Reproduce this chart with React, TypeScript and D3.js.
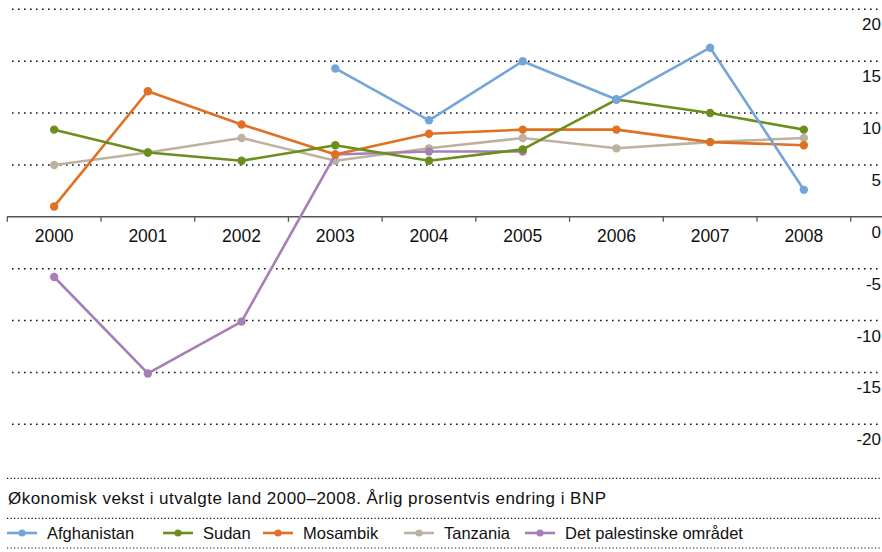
import React from "react";
import * as d3 from "d3";

const years = ["2000", "2001", "2002", "2003", "2004", "2005", "2006", "2007", "2008"];
const afghanistan: (number | null)[] = [null, null, null, 14.3, 9.3, 15.0, 11.3, 16.3, 2.6];
const sudan: (number | null)[] = [8.4, 6.2, 5.4, 6.9, 5.4, 6.5, 11.3, 10.0, 8.4];
const mosambik: (number | null)[] = [1.0, 12.1, 8.9, 6.0, 8.0, 8.4, 8.4, 7.2, 6.9];
const tanzania: (number | null)[] = [5.0, 6.2, 7.6, 5.4, 6.6, 7.6, 6.6, 7.2, 7.6];
const palestina: (number | null)[] = [-5.8, -15.1, -10.1, 6.0, 6.3, 6.3, null, null, null];
const yTicks = [20, 15, 10, 5, 0, -5, -10, -15, -20];
const title = "Økonomisk vekst i utvalgte land 2000–2008. Årlig prosentvis endring i BNP";

const seriesNames = ["Afghanistan", "Sudan", "Mosambik", "Tanzania", "Det palestinske området"];
const seriesValues = [afghanistan, sudan, mosambik, tanzania, palestina];
const seriesColors = ["#74a5da", "#6b8e1c", "#e07022", "#bdb1a0", "#a57fb6"];
// draw order (back to front)
const drawOrder = [3, 4, 2, 1, 0];
const legendX = [7, 163, 263, 404, 525];

const FONT = "'Liberation Sans', Arial, sans-serif";

export default function App() {
  const W = 882;
  const H = 552;
  const x = d3.scaleBand<string>().domain(years).range([7.3, 850.7]).padding(0);
  const y = d3.scaleLinear().domain([-20, 20]).range([424.3, 9.3]);
  const cx = (i: number) => (x(years[i]) as number) + x.bandwidth() / 2;
  const line = d3
    .line<number | null>()
    .defined((d) => d !== null)
    .x((_, i) => cx(i))
    .y((d) => y(d as number));

  const boundaries = years.map((yr) => x(yr) as number).concat([x.range()[1]]);

  return (
    <svg
      width={W}
      height={H}
      style={{ position: "fixed", left: 0, top: 0, background: "#fff" }}
      fontFamily={FONT}
    >
      {yTicks
        .filter((t) => t !== 0)
        .map((t) => (
          <line
            key={"g" + t}
            x1={12}
            x2={880}
            y1={y(t)}
            y2={y(t)}
            stroke="#111"
            strokeWidth={1.6}
            strokeDasharray="1.6 4.4"
          />
        ))}
      {[478.3, 518.3, 548].map((yy, i) => (
        <line
          key={"r" + i}
          x1={7}
          x2={880}
          y1={yy}
          y2={yy}
          stroke="#111"
          strokeWidth={1.2}
          strokeDasharray="1.2 2.3"
        />
      ))}
      <line x1={7} x2={882} y1={y(0)} y2={y(0)} stroke="#555" strokeWidth={1.5} />
      {boundaries.map((b, i) => (
        <line key={"t" + i} x1={b} x2={b} y1={y(0)} y2={y(0) + 5} stroke="#555" strokeWidth={1.3} />
      ))}
      {years.map((yr, i) => (
        <text key={yr} x={cx(i)} y={236} textAnchor="middle" dominantBaseline="central" fontSize={17.5} fill="#111">
          {yr}
        </text>
      ))}
      {yTicks.map((t) => (
        <text
          key={"yl" + t}
          x={881}
          y={y(t) + 15.5}
          textAnchor="end"
          dominantBaseline="central"
          fontSize={17}
          fill="#111"
        >
          {t}
        </text>
      ))}
      {drawOrder.map((si) => (
        <g key={seriesNames[si]}>
          <path d={line(seriesValues[si]) || ""} fill="none" stroke={seriesColors[si]} strokeWidth={2.6} strokeLinejoin="round" />
          {seriesValues[si].map((v, i) =>
            v === null ? null : <circle key={i} cx={cx(i)} cy={y(v)} r={4.2} fill={seriesColors[si]} />
          )}
        </g>
      ))}
      <text x={8} y={498} dominantBaseline="central" fontSize={17} textLength={598} lengthAdjust="spacing" fill="#111">
        {title}
      </text>
      {seriesNames.map((n, i) => (
        <g key={"lg" + n} transform={`translate(${legendX[i]},533)`}>
          <line x1={0} x2={30} y1={0} y2={0} stroke={seriesColors[i]} strokeWidth={2.6} />
          <circle cx={15} cy={0} r={3.6} fill={seriesColors[i]} />
          <text x={40} y={0} dominantBaseline="central" fontSize={16.5} fill="#111">
            {n}
          </text>
        </g>
      ))}
    </svg>
  );
}
